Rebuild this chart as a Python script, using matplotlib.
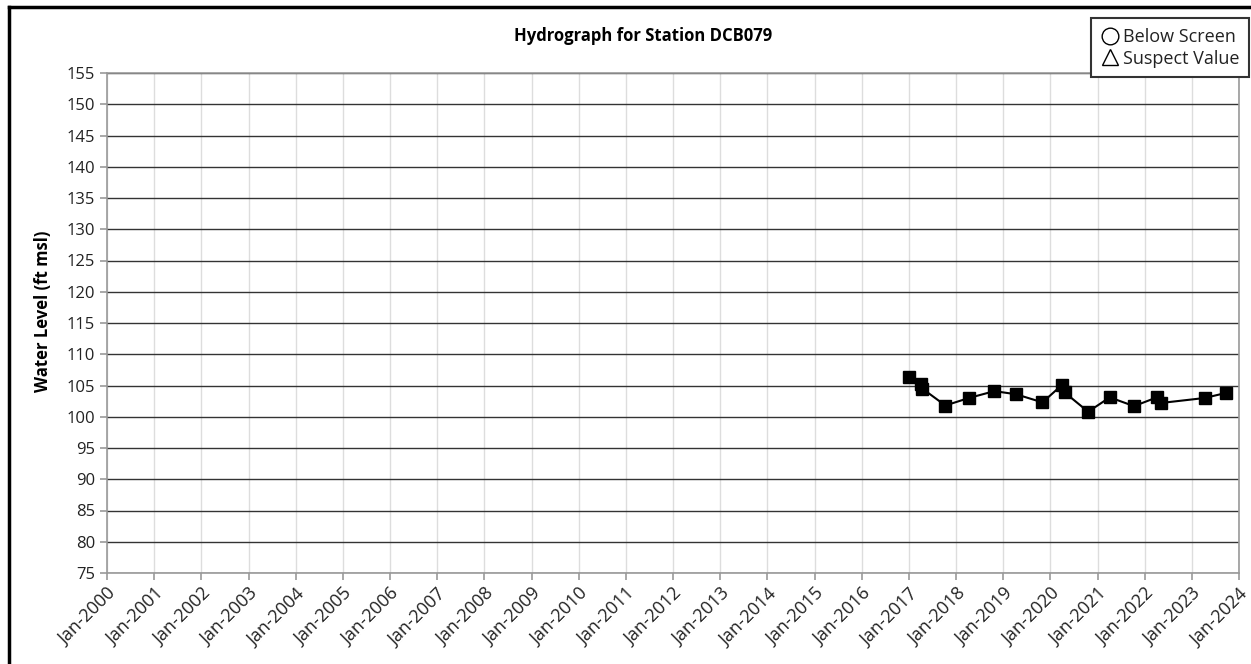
import matplotlib
matplotlib.use('Agg')
import matplotlib.pyplot as plt
import matplotlib.dates as mdates
from matplotlib.lines import Line2D
import numpy as np
import pandas as pd


TITLE = 'Hydrograph for Station DCB079'
Y_LABEL = 'Water Level (ft msl)'

sample_dates = ['2017-01-05', '2017-04-01', '2017-04-15', '2017-10-10',
                '2018-04-10', '2018-10-25', '2019-04-10', '2019-11-01',
                '2020-04-01', '2020-04-20', '2020-10-20', '2021-04-05',
                '2021-10-10', '2022-04-05', '2022-05-05', '2023-04-10',
                '2023-09-20']
water_levels = [106.4, 105.3, 104.5, 101.8, 103.0, 104.1, 103.6, 102.3,
                105.1, 103.9, 100.8, 103.1, 101.7, 103.1, 102.2, 103.0,
                103.8]
legend_labels = ['Below Screen', 'Suspect Value']

plt.rcParams['font.family'] = ['Open Sans', 'DejaVu Sans']


def draw_hydrograph():

    fig = plt.figure(figsize=(12.51, 6.64), dpi=100)
    ax = fig.add_axes([107/1251, 1-573/664, (1239-107)/1251, (573-73)/664])

    xs = pd.to_datetime(sample_dates)
    ax.plot(xs, water_levels, color='black', lw=1.5, marker='s',
            markersize=8, zorder=3)

    ax.set_xlim(pd.Timestamp('2000-01-01'), pd.Timestamp('2024-01-01'))
    ax.set_ylim(75, 155)
    ax.set_yticks(np.arange(75, 156, 5))
    ax.xaxis.set_major_locator(mdates.YearLocator())
    ax.xaxis.set_major_formatter(mdates.DateFormatter('%b-%Y'))
    plt.setp(ax.get_xticklabels(), rotation=45, ha='right',
             rotation_mode='anchor')

    ax.grid(axis='y', color='#333333', lw=1.0)
    ax.grid(axis='x', color='#dddddd', lw=1.0)
    ax.set_axisbelow(True)
    for side in ax.spines.values():
        side.set_color('#999999')
        side.set_linewidth(1.2)
    ax.tick_params(axis='both', colors='#999999', labelcolor='#222222',
                   length=5, width=1.2)
    ax.tick_params(axis='y', labelsize=12)
    ax.tick_params(axis='x', labelsize=13)

    ax.set_ylabel(Y_LABEL, fontsize=12, fontweight='bold')
    ax.yaxis.set_label_coords(-0.049, 0.524)
    fig.text(643/1251, 1-36/664, TITLE, ha='center', va='center',
             fontsize=12, fontweight='bold')

    # legend box (symbols only, no data)
    handles = [Line2D([], [], ls='none', marker='o', mfc='none', mec='black',
                      markersize=12),
               Line2D([], [], ls='none', marker='^', mfc='none', mec='black',
                      markersize=12)]
    leg = fig.legend(handles, legend_labels, loc='upper right',
                     bbox_to_anchor=(1249/1251, 1-18/664), borderaxespad=0,
                     fontsize=13, handlelength=1.0, handletextpad=0.2,
                     borderpad=0.55, labelspacing=0.2, fancybox=False,
                     framealpha=1)
    leg.get_frame().set_edgecolor('#333333')
    leg.get_frame().set_linewidth(1.5)
    for txt in leg.get_texts():
        txt.set_color('#222222')

    # outer border on left and top
    fig.add_artist(Line2D([9/1251, 9/1251], [0, 1-7/664], color='black',
                          lw=2.5, transform=fig.transFigure))
    fig.add_artist(Line2D([9/1251, 1], [1-7/664, 1-7/664], color='black',
                          lw=2.5, transform=fig.transFigure))

    fig.savefig('out.png', dpi=100)


draw_hydrograph()
